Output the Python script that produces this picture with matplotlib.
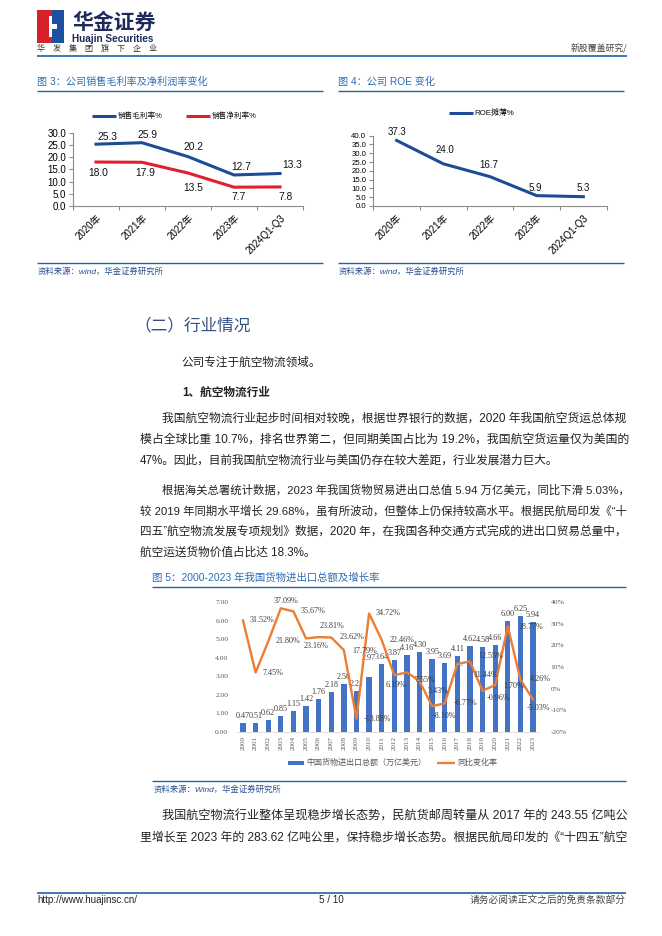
import matplotlib
matplotlib.use('Agg')
import matplotlib.pyplot as plt
from matplotlib.patches import Rectangle, Polygon

# ---------------- data ----------------
margin_categories = ['2020年', '2021年', '2022年', '2023年', '2024Q1-Q3']
gross_margin = [25.3, 25.9, 20.2, 12.7, 13.3]
net_margin = [18.0, 17.9, 13.5, 7.7, 7.8]
margin_yticks = [0, 5, 10, 15, 20, 25, 30]
margin_legend = ['销售毛利率%', '销售净利率%']

roe_diluted = [37.3, 24.0, 16.7, 5.9, 5.3]
roe_yticks = [0, 5, 10, 15, 20, 25, 30, 35, 40]
roe_legend = 'ROE摊薄%'

trade_years = ['2000', '2001', '2002', '2003', '2004', '2005', '2006', '2007',
               '2008', '2009', '2010', '2011', '2012', '2013', '2014', '2015',
               '2016', '2017', '2018', '2019', '2020', '2021', '2022', '2023']
trade_total = [0.47, 0.51, 0.62, 0.85, 1.15, 1.42, 1.76, 2.18, 2.56, 2.21, 2.97, 3.64,
               3.87, 4.16, 4.30, 3.95, 3.69, 4.11, 4.62, 4.58, 4.66, 6.00, 6.25, 5.94]
trade_yoy = [31.52, 7.45, 21.80, 37.09, 35.67, 23.16, 23.81, 23.62, 17.79, -13.88, 34.72, 22.46,
             6.19, 7.55, 3.43, -8.10, -6.77, 11.44, 12.55, -0.96, 1.70, 28.77, 4.26, -5.03]
trade_left_ticks = [0, 1, 2, 3, 4, 5, 6, 7]
trade_right_ticks = [-20, -10, 0, 10, 20, 30, 40]
trade_legend = ['中国货物进出口总额（万亿美元）', '同比变化率']

# ---------------- styles ----------------
W, H, DPI = 662, 936, 100
SANS = ['Liberation Sans', 'Noto Sans CJK SC']
SERIF = ['Liberation Serif', 'Noto Sans CJK SC']
CJK = ['Noto Sans CJK SC', 'Liberation Sans']
TITLE_BLUE = '#2e6db4'
RULE_BLUE = '#1f63a8'
SRC_BLUE = '#2a4f8f'
NAVY = '#1c2a5c'
TXT = '#222222'
LINE_BLUE = '#1d4b96'
LINE_RED = '#e21f2c'
AX_GRAY = '#8c8c8c'
BAR_BLUE = '#4472c4'
ORANGE = '#ed7d31'

fig = plt.figure(figsize=(W / DPI, H / DPI), dpi=DPI)
fig.patch.set_facecolor('white')
page = fig.add_axes([0, 0, 1, 1], zorder=0)
page.set_xlim(0, W)
page.set_ylim(H, 0)
page.axis('off')


def px_axes(x0, y0, x1, y1):
    ax = fig.add_axes([x0 / W, 1 - y1 / H, (x1 - x0) / W, (y1 - y0) / H], zorder=2)
    ax.set_facecolor('none')
    return ax


def hline(x0, x1, y, color=RULE_BLUE, lw=1.0):
    page.plot([x0, x1], [y, y], color=color, lw=lw, solid_capstyle='butt')


# ---------------- header ----------------
page.add_patch(Rectangle((37, 10), 15, 33, color='#d8222b', lw=0))
page.add_patch(Rectangle((52, 10), 12, 33, color='#1d50a0', lw=0))
page.add_patch(Polygon([(49, 16), (52, 16), (52, 24), (57, 24), (57, 29), (52, 29), (52, 37), (49, 37)],
                       closed=True, color='white', lw=0))
page.text(72, 22, '华金证券', fontsize=15, fontweight='bold', color=NAVY, va='center', family=CJK)
page.text(72, 39, 'Huajin Securities', fontsize=7.2, fontweight='bold', color=NAVY, va='center', family=SANS)
page.text(37, 48.5, '华　发　集　团　旗　下　企　业', fontsize=5.8, color='#333333', va='center', family=CJK)
page.text(627, 48.5, '新股覆盖研究/', fontsize=6.4, color='#444444', va='center', ha='right', family=CJK)
hline(37, 627, 56, lw=1.2)

# ---------------- figure 3 / 4 frames ----------------
page.text(37, 82, '图 3：公司销售毛利率及净利润率变化', fontsize=7.3, color=TITLE_BLUE, va='center', family=SANS)
page.text(338, 82, '图 4：公司 ROE 变化', fontsize=7.3, color=TITLE_BLUE, va='center', family=SANS)
hline(37, 323, 91)
hline(338, 624, 91)
hline(37, 323, 263)
hline(338, 624, 263)
page.text(38, 272, '资料来源：wind，华金证券研究所', fontsize=6, style='italic', color=SRC_BLUE,
          va='center', family=SANS)
page.text(339, 272, '资料来源：wind，华金证券研究所', fontsize=6, style='italic', color=SRC_BLUE,
          va='center', family=SANS)


def style_small_axes(ax, ncat, ylim, yticks, ytick_size):
    ax.set_xlim(-0.5, ncat - 0.5)
    ax.set_ylim(*ylim)
    ax.set_yticks(yticks)
    ax.set_yticklabels([f'{v:.1f}' for v in yticks], fontsize=ytick_size, family=SANS)
    ax.set_xticks(range(ncat))
    ax.set_xticklabels(margin_categories, rotation=45, ha='right', va='top',
                       rotation_mode='anchor', fontsize=7, family=SANS)
    ax.set_xticks([i - 0.5 for i in range(ncat + 1)], minor=True)
    ax.tick_params(axis='x', which='major', length=0, pad=5)
    ax.tick_params(axis='x', which='minor', length=3, direction='out', color=AX_GRAY, width=0.8)
    ax.tick_params(axis='y', length=3, direction='out', color=AX_GRAY, width=0.8, pad=2)
    for s in ('top', 'right'):
        ax.spines[s].set_visible(False)
    for s in ('left', 'bottom'):
        ax.spines[s].set_color(AX_GRAY)
        ax.spines[s].set_linewidth(0.8)


# ---- figure 3 chart ----
ax3 = px_axes(73, 132.7, 303, 206)
xc = list(range(len(margin_categories)))
ax3.plot(xc, gross_margin, color=LINE_BLUE, lw=2.2, solid_joinstyle='round')
ax3.plot(xc, net_margin, color=LINE_RED, lw=2.2, solid_joinstyle='round')
style_small_axes(ax3, len(xc), (0, 30), margin_yticks, 7)
gm_off = [(11, 7), (5, 8), (5, 10), (7, 8), (12, 9)]
nm_off = [(2, -11), (3, -11), (5, -15), (5, -10), (6, -10)]
for i, v in enumerate(gross_margin):
    ax3.annotate(f'{v:.1f}', (i, v), xytext=gm_off[i], textcoords='offset pixels',
                 ha='center', va='center', fontsize=7.4, family=SANS, color='#111111')
for i, v in enumerate(net_margin):
    ax3.annotate(f'{v:.1f}', (i, v), xytext=nm_off[i], textcoords='offset pixels',
                 ha='center', va='center', fontsize=7.4, family=SANS, color='#111111')
page.plot([92, 116], [116, 116], color=LINE_BLUE, lw=2.2, solid_capstyle='butt')
page.text(118, 116, margin_legend[0], fontsize=5.5, va='center', family=SANS, color='#111111')
page.plot([186, 210], [116, 116], color=LINE_RED, lw=2.2, solid_capstyle='butt')
page.text(212, 116, margin_legend[1], fontsize=5.5, va='center', family=SANS, color='#111111')

# ---- figure 4 chart ----
ax4 = px_axes(373.3, 135.7, 606.7, 206)
ax4.plot(xc, roe_diluted, color=LINE_BLUE, lw=2.2, solid_joinstyle='round')
style_small_axes(ax4, len(xc), (0, 40), roe_yticks, 5.6)
roe_off = [(0, 8), (2, 14), (-1, 12), (-1, 8), (0, 9)]
for i, v in enumerate(roe_diluted):
    ax4.annotate(f'{v:.1f}', (i, v), xytext=roe_off[i], textcoords='offset pixels',
                 ha='center', va='center', fontsize=7, family=SANS, color='#111111')
page.plot([449, 473], [113, 113], color=LINE_BLUE, lw=2.2, solid_capstyle='butt')
page.text(474, 113, roe_legend, fontsize=5.7, va='center', family=SANS, color='#111111')

# ---------------- body text ----------------
renderer = fig.canvas.get_renderer()


def body_line(x, y, s, justify=True, size=8.4, right=626, **kw):
    t = page.text(x, y, s, fontsize=size, family=SANS, color=TXT, va='center', ha='left', **kw)
    if justify:
        w = t.get_window_extent(renderer).width
        scale = max(0.9, min(1.1, (right - x) / w))
        t.set_fontsize(size * scale)
    return t


page.text(134, 326, '（二）行业情况', fontsize=12, color='#34507e', va='center', family=CJK)
body_line(181, 363, '公司专注于航空物流领域。', justify=False)
body_line(182, 393, '1、航空物流行业', justify=False, fontweight='bold')

body_line(162, 419, '我国航空物流行业起步时间相对较晚，根据世界银行的数据，2020 年我国航空货运总体规')
body_line(140, 440, '模占全球比重 10.7%，排名世界第二，但同期美国占比为 19.2%，我国航空货运量仅为美国的')
body_line(140, 461, '47%。因此，目前我国航空物流行业与美国仍存在较大差距，行业发展潜力巨大。', justify=False)

body_line(162, 490, '根据海关总署统计数据，2023 年我国货物贸易进出口总值 5.94 万亿美元，同比下滑 5.03%，')
body_line(140, 511, '较 2019 年同期水平增长 29.68%，虽有所波动，但整体上仍保持较高水平。根据民航局印发《“十')
body_line(140, 532, '四五”航空物流发展专项规划》数据，2020 年，在我国各种交通方式完成的进出口贸易总量中，')
body_line(140, 553, '航空运送货物价值占比达 18.3%。', justify=False)

# ---------------- figure 5 ----------------
page.text(152, 578, '图 5：2000-2023 年我国货物进出口总额及增长率', fontsize=7.5, color=TITLE_BLUE,
          va='center', family=SANS)
hline(152, 626, 587)

ax5 = px_axes(236.7, 602, 539.3, 732)
xi = list(range(len(trade_years)))
ax5.bar(xi, trade_total, width=0.42, color=BAR_BLUE, zorder=2)
ax5.set_xlim(-0.5, len(xi) - 0.5)
ax5.set_ylim(0, 7)
ax5.set_yticks(trade_left_ticks)
ax5.set_yticklabels([f'{v:.2f}' for v in trade_left_ticks], fontsize=5.4, family=SERIF, color='#595959')
ax5.set_xticks(xi)
ax5.set_xticklabels(trade_years, rotation=90, fontsize=5, family=SERIF, color='#595959')
ax5.tick_params(axis='both', length=0)
ax5.tick_params(axis='y', pad=6)
ax5.tick_params(axis='x', pad=3)
for s in ('top', 'right', 'left'):
    ax5.spines[s].set_visible(False)
ax5.spines['bottom'].set_color('#d9d9d9')
ax5.spines['bottom'].set_linewidth(0.6)
bar_lift = {10: 19}
for i, v in enumerate(trade_total):
    ax5.annotate(f'{v:.2f}', (i, v), xytext=(0, bar_lift.get(i, 7)), textcoords='offset pixels',
                 ha='center', va='center', fontsize=5.9, family=SERIF, color='#404040', zorder=3)

tw = ax5.twinx()
tw.set_facecolor('none')
tw.plot(xi, trade_yoy, color=ORANGE, lw=1.7, solid_joinstyle='round', zorder=3)
tw.set_ylim(-20, 40)
tw.set_yticks(trade_right_ticks)
tw.set_yticklabels([f'{v}%' for v in trade_right_ticks], fontsize=5.4, family=SERIF, color='#595959')
tw.tick_params(axis='y', length=0, pad=8)
for s in tw.spines.values():
    s.set_visible(False)
pct_off = [(19, 0), (17, 0), (20, 0), (5, 7), (20, 0), (10, -8), (13, 11), (21, 0),
           (21, -1), (21, 0), (19, 0), (20, 0), (2, -10), (18, -8), (19, -10), (12, -10),
           (21, 0), (28, -11), (21, 5), (16, -7), (19, -1), (23, -1), (20, 0), (5, -8)]
for i, v in enumerate(trade_yoy):
    kw = {}
    if i == 17:
        kw['arrowprops'] = dict(arrowstyle='-', color='#8faadc', lw=0.5, shrinkA=6, shrinkB=0)
    tw.annotate(f'{v:.2f}%', (i, v), xytext=pct_off[i], textcoords='offset pixels',
                ha='center', va='center', fontsize=5.9, family=SERIF, color='#404040', zorder=4, **kw)

page.add_patch(Rectangle((288, 761), 16, 4, color=BAR_BLUE, lw=0))
page.text(306, 763, trade_legend[0], fontsize=5.8, va='center', family=SERIF, color='#595959')
page.plot([437, 455], [763, 763], color=ORANGE, lw=1.6, solid_capstyle='butt')
page.text(457, 763, trade_legend[1], fontsize=5.8, va='center', family=SERIF, color='#595959')

hline(152, 626, 781)
page.text(154, 790, '资料来源：Wind，华金证券研究所', fontsize=6, style='italic', color=SRC_BLUE,
          va='center', family=SANS)

body_line(162, 817, '我国航空物流行业整体呈现稳步增长态势，民航货邮周转量从 2017 年的 243.55 亿吨公')
body_line(140, 838, '里增长至 2023 年的 283.62 亿吨公里，保持稳步增长态势。根据民航局印发的《“十四五”航空')

# ---------------- footer ----------------
hline(37, 626, 893, lw=1.2)
page.text(37, 900, 'http://www.huajinsc.cn/', fontsize=7.1, va='center', family=SANS, color='#222222')
page.text(331, 900, '5 / 10', fontsize=7.1, va='center', ha='center', family=SANS, color='#222222')
page.text(626, 900, '请务必阅读正文之后的免责条款部分', fontsize=7, va='center', ha='right',
          family=CJK, color='#444444')

fig.savefig('out.png', dpi=DPI, facecolor='white')
